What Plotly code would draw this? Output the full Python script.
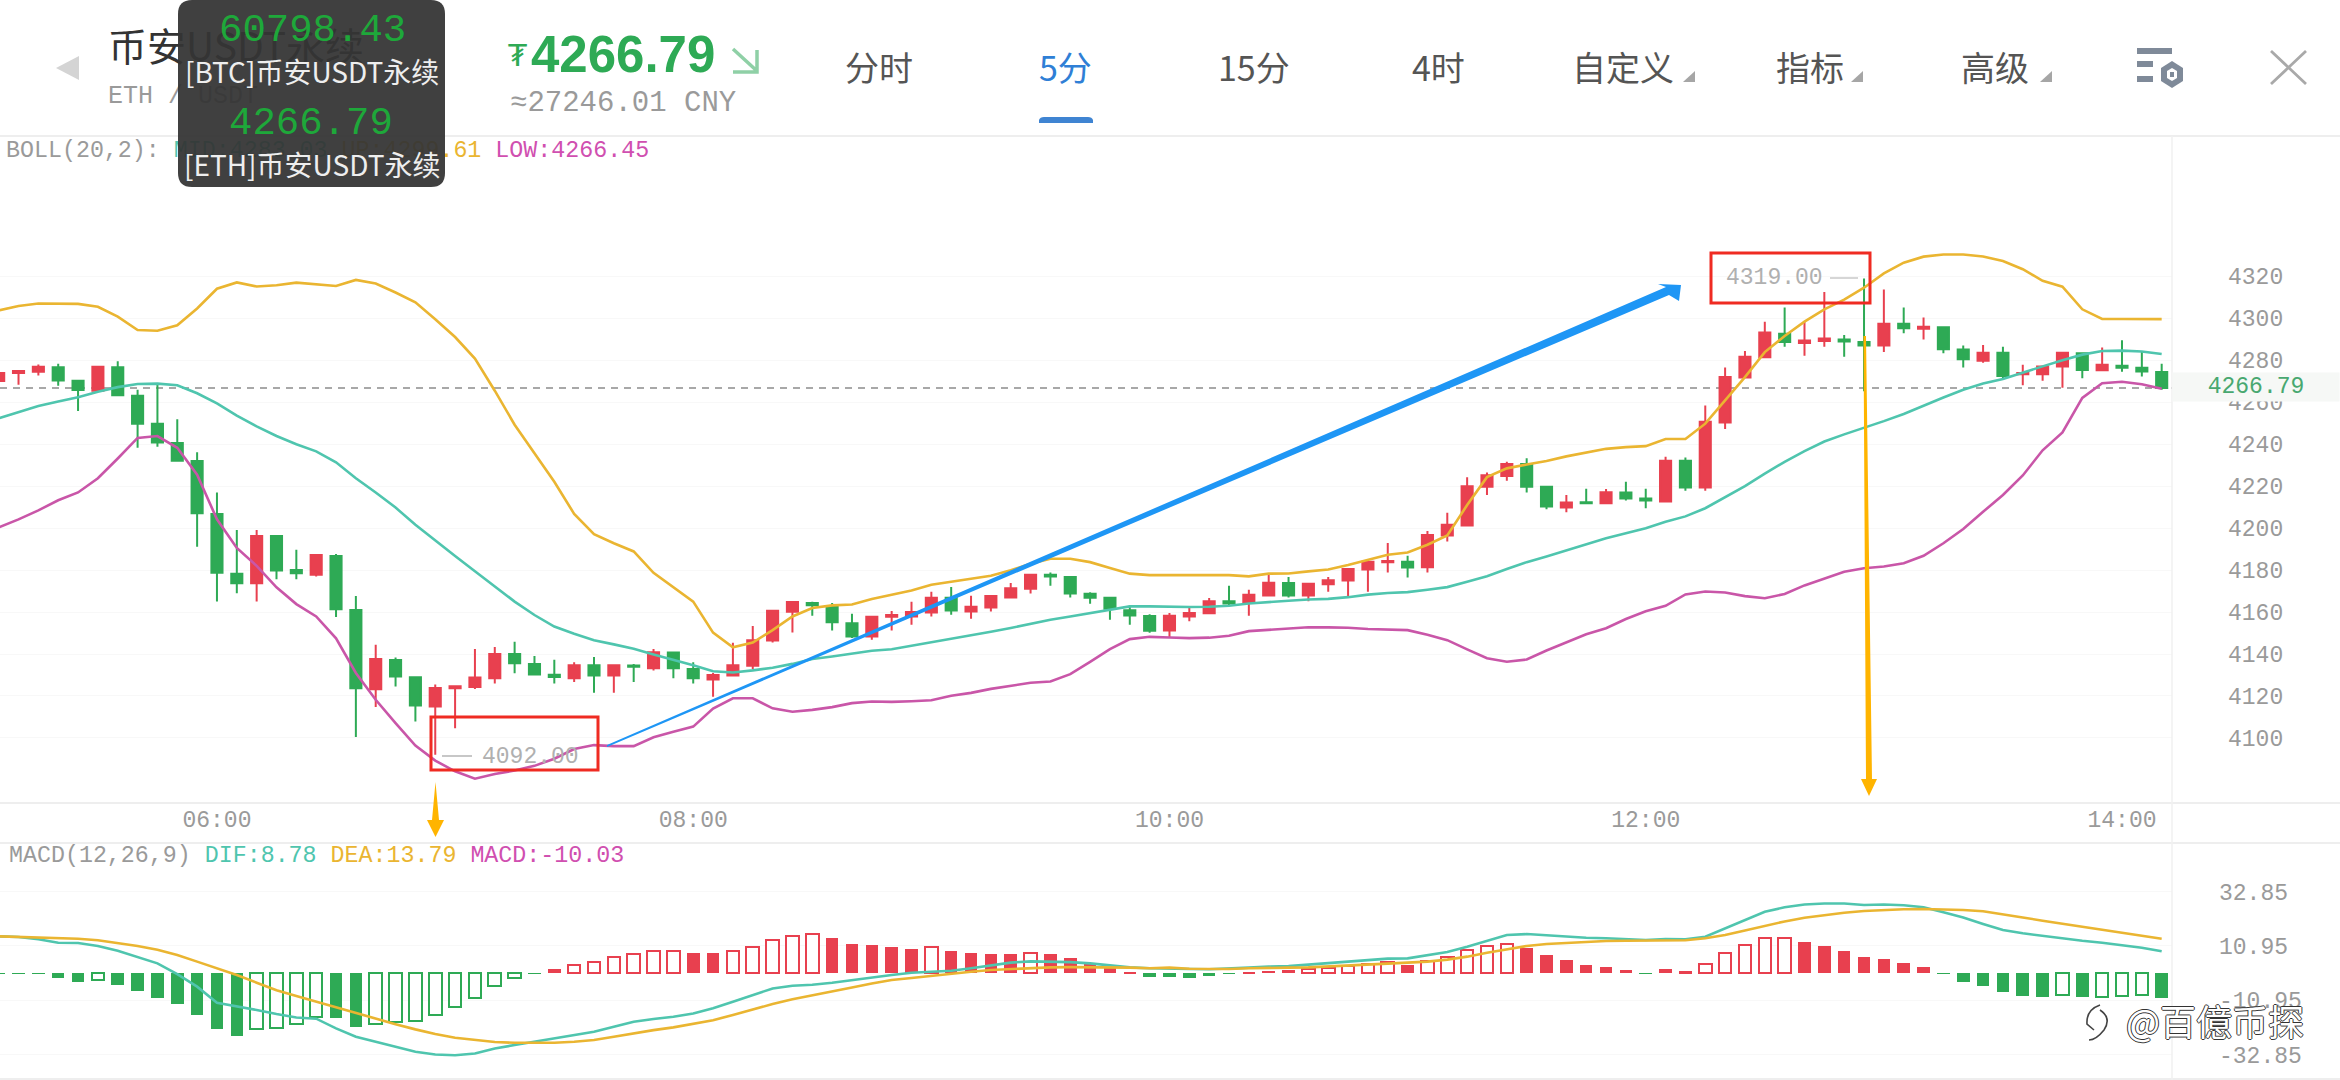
import pandas as pd
import plotly.graph_objects as go

times = pd.date_range("2021-05-11 05:05", periods=110, freq="5min")

open_ = [4270.1,4273.9,4274.5,4276.7,4270.3,4265.5,4276.7,4263.1,4249.7,4240.6,
 4232.0,4206.8,4178.3,4173.7,4196.2,4180.0,4177.8,4186.7,4161.0,4123.2,
 4137.1,4128.9,4115.0,4123.7,4124.3,4128.4,4140.0,4135.2,4130.1,4128.4,
 4134.7,4129.8,4134.5,4133.2,4140.7,4132.9,4127.9,4129.8,4134.4,4146.5,
 4160.2,4164.3,4162.7,4154.7,4148.4,4157.8,4157.9,4159.8,4166.8,4160.3,
 4162.2,4167.0,4171.1,4177.8,4176.7,4168.7,4166.8,4160.9,4158.1,4151.2,
 4157.9,4159.4,4165.2,4164.4,4167.9,4173.8,4167.9,4173.2,4175.1,4180.3,
 4183.8,4184.0,4181.4,4196.5,4201.3,4219.7,4224.8,4230.6,4219.7,4209.8,
 4212.4,4211.9,4217.0,4214.1,4212.7,4232.1,4219.4,4250.3,4271.8,4281.5,
 4292.6,4288.2,4289.2,4289.9,4288.7,4287.1,4297.4,4295.0,4295.8,4285.1,
 4279.8,4283.6,4273.3,4273.3,4277.1,4283.4,4275.2,4277.4,4276.4,4274.4]
high = [4274.0,4275.2,4278.0,4278.3,4270.6,4277.3,4279.6,4266.0,4268.9,4251.9,
 4236.2,4217.0,4199.1,4199.1,4196.5,4189.7,4187.7,4187.7,4167.6,4144.4,
 4138.3,4128.9,4125.5,4125.0,4142.4,4143.4,4145.8,4139.1,4137.3,4136.1,
 4138.6,4134.7,4135.2,4142.4,4140.7,4136.1,4131.0,4145.4,4153.4,4160.6,
 4164.8,4164.9,4164.3,4159.2,4157.8,4160.5,4164.9,4169.7,4171.9,4167.8,
 4167.6,4173.8,4177.8,4178.9,4176.7,4169.4,4167.1,4163.3,4159.0,4159.5,
 4161.9,4166.7,4172.6,4170.6,4177.8,4176.7,4173.8,4176.7,4180.5,4184.9,
 4192.9,4186.9,4198.6,4207.3,4224.3,4226.5,4231.6,4233.3,4219.7,4215.8,
 4218.8,4218.7,4222.1,4218.8,4234.0,4233.7,4258.4,4276.6,4284.4,4298.4,
 4305.2,4298.7,4312.5,4292.1,4319.0,4313.7,4305.2,4300.4,4295.8,4287.1,
 4287.3,4286.4,4277.9,4277.1,4283.6,4283.4,4286.1,4289.5,4283.9,4278.3]
low = [4270.1,4268.4,4272.8,4267.9,4255.8,4265.2,4263.0,4238.3,4238.8,4231.8,
 4191.1,4165.0,4169.0,4165.0,4175.6,4175.6,4177.0,4157.7,4100.5,4114.8,
 4124.5,4107.8,4092.0,4104.6,4123.3,4126.0,4130.8,4130.1,4125.9,4126.7,
 4121.6,4121.6,4126.7,4132.2,4128.4,4126.0,4119.6,4129.3,4132.7,4145.5,
 4150.3,4158.2,4151.2,4147.6,4146.8,4151.2,4153.9,4157.9,4158.7,4156.8,
 4160.3,4167.0,4168.9,4172.6,4167.0,4164.0,4156.3,4153.9,4150.1,4148.1,
 4155.6,4159.0,4163.0,4158.2,4167.8,4167.0,4165.2,4169.7,4167.5,4169.7,
 4178.9,4176.5,4178.9,4193.6,4201.0,4215.8,4222.6,4217.0,4209.0,4207.6,
 4211.9,4211.9,4213.2,4209.5,4212.4,4217.8,4217.8,4247.3,4271.5,4281.3,
 4286.4,4282.2,4286.4,4281.7,4265.2,4283.9,4292.9,4289.9,4283.4,4276.6,
 4278.8,4270.8,4268.1,4270.3,4266.9,4271.5,4275.2,4274.5,4272.3,4266.0]
close = [4274.0,4274.9,4276.9,4270.4,4265.8,4276.9,4263.3,4249.8,4240.8,4232.1,
 4207.1,4178.7,4173.7,4196.2,4179.8,4178.5,4187.2,4161.3,4123.7,4137.6,
 4129.3,4115.5,4123.8,4124.7,4128.8,4140.0,4135.6,4130.3,4129.1,4134.7,
 4129.8,4134.7,4133.9,4140.9,4133.2,4128.4,4130.0,4134.7,4146.6,4160.6,
 4164.8,4163.2,4155.1,4148.4,4157.8,4158.6,4160.0,4166.8,4160.8,4162.5,
 4167.6,4171.4,4177.8,4177.0,4168.9,4166.8,4161.6,4158.4,4151.1,4158.2,
 4159.5,4165.2,4164.1,4168.3,4174.0,4167.9,4173.5,4175.2,4180.5,4184.0,
 4184.3,4181.3,4196.7,4201.6,4220.0,4225.2,4230.6,4219.7,4210.3,4212.2,
 4211.9,4217.1,4214.1,4213.2,4232.1,4219.4,4250.7,4272.0,4281.7,4293.3,
 4288.7,4289.4,4290.4,4288.9,4287.1,4297.4,4295.3,4296.0,4285.3,4280.5,
 4283.6,4272.5,4274.0,4277.1,4283.6,4275.4,4277.9,4276.4,4274.7,4266.79]

boll_up = [4303.8,4305.9,4307.1,4307.1,4306.9,4305.5,4300.8,4294.4,4294.1,4296.7,
 4304.7,4314.1,4317.1,4315.2,4315.8,4317.0,4316.3,4315.4,4318.3,4316.6,
 4312.3,4307.6,4299.6,4291.1,4280.8,4265.5,4249.3,4235.7,4222.1,4206.8,
 4197.1,4192.8,4188.9,4178.7,4171.8,4165.0,4150.2,4143.2,4145.5,4151.4,
 4157.9,4161.9,4163.2,4163.6,4166.2,4168.3,4170.3,4173.0,4174.3,4175.9,
 4177.3,4179.9,4183.0,4185.4,4185.4,4183.8,4181.0,4178.3,4177.6,4177.5,
 4177.5,4177.6,4177.6,4177.0,4178.3,4178.4,4179.4,4180.3,4182.4,4184.8,
 4187.3,4188.4,4192.1,4196.5,4211.0,4224.3,4228.5,4230.3,4232.0,4234.2,
 4235.9,4237.8,4238.6,4239.1,4242.5,4242.5,4249.8,4260.9,4272.0,4283.9,
 4291.6,4298.4,4304.3,4308.9,4314.6,4321.4,4326.5,4329.4,4330.4,4330.4,
 4329.5,4327.3,4323.4,4317.9,4315.1,4304.3,4299.7,4299.7,4299.7,4299.61]
boll_mid = [4252.4,4255.3,4258.2,4260.4,4262.4,4265.0,4267.2,4268.7,4268.9,4268.1,
 4264.3,4259.5,4253.6,4248.5,4243.9,4240.0,4236.6,4231.4,4223.8,4217.0,
 4209.8,4201.6,4194.0,4186.7,4179.5,4172.4,4165.0,4158.6,4153.1,4149.7,
 4146.6,4144.6,4142.5,4139.8,4137.4,4134.7,4131.8,4131.2,4132.2,4133.5,
 4135.3,4137.6,4138.8,4140.1,4141.6,4142.3,4143.9,4145.7,4147.3,4148.7,
 4150.6,4152.4,4154.4,4156.3,4157.9,4159.5,4161.1,4162.7,4162.7,4162.5,
 4162.4,4162.5,4163.0,4164.1,4164.9,4165.4,4166.0,4166.3,4167.1,4168.3,
 4169.1,4169.5,4170.6,4171.9,4174.5,4177.1,4180.5,4183.8,4186.5,4189.4,
 4192.4,4195.2,4197.6,4200.0,4203.0,4205.6,4209.5,4214.6,4220.0,4226.0,
 4231.6,4236.7,4241.3,4244.7,4247.8,4251.0,4254.4,4258.4,4262.3,4266.0,
 4268.9,4271.1,4274.2,4277.1,4280.0,4282.7,4284.4,4284.6,4284.2,4283.03]
boll_low = [4200.3,4204.2,4208.5,4213.3,4217.0,4223.8,4233.2,4243.0,4243.9,4238.3,
 4225.5,4204.2,4190.6,4182.0,4171.8,4163.8,4157.9,4147.5,4131.0,4118.2,
 4107.1,4096.4,4089.2,4084.1,4080.6,4082.8,4084.5,4086.7,4090.1,4094.7,
 4096.6,4096.1,4096.1,4100.3,4102.9,4105.4,4114.0,4118.9,4118.9,4114.1,
 4112.5,4113.4,4114.7,4116.6,4117.4,4117.2,4117.5,4118.0,4120.1,4121.5,
 4123.4,4124.7,4126.3,4126.9,4130.4,4136.3,4142.3,4147.1,4148.2,4147.9,
 4147.6,4147.8,4148.7,4150.9,4151.6,4152.4,4152.8,4152.7,4152.5,4151.9,
 4151.6,4151.4,4149.2,4146.6,4142.2,4138.0,4136.3,4137.4,4141.7,4145.4,
 4149.4,4152.3,4156.7,4160.4,4163.0,4168.4,4169.8,4169.3,4167.6,4166.6,
 4168.6,4172.7,4175.8,4179.2,4180.9,4181.7,4183.3,4186.8,4192.8,4199.6,
 4207.8,4215.8,4225.1,4237.1,4245.6,4262.1,4269.1,4269.8,4268.6,4266.45]

macd_hist = [-0.3,-0.3,-0.3,-1.9,-3.5,-2.8,-4.7,-7.1,-9.9,-12.4,
 -16.8,-22.4,-25.3,-22.6,-22.2,-20.6,-17.6,-18.0,-21.6,-20.6,
 -19.9,-19.5,-16.9,-13.7,-10.1,-5.4,-2.0,-0.3,1.6,3.4,
 4.6,6.3,7.5,9.0,9.0,7.9,7.9,8.7,10.3,13.2,
 14.8,15.6,14.1,11.7,11.2,10.5,9.7,10.3,8.9,7.9,
 7.5,7.5,8.2,7.5,6.0,3.8,2.2,0.5,-1.6,-1.6,
 -2.0,-1.1,-0.2,0.4,0.9,1.2,1.6,2.2,3.0,3.8,
 4.3,3.2,5.0,6.3,9.1,10.8,11.8,9.9,7.3,5.2,
 3.2,2.4,1.2,-0.2,1.6,0.8,3.5,7.9,11.2,14.0,
 14.0,12.4,10.9,8.9,6.5,5.6,4.0,2.4,-0.3,-3.5,
 -5.2,-7.5,-9.1,-9.5,-8.9,-9.5,-9.5,-9.1,-9.0,-10.03]
hollow_bars = [5,13,14,15,16,19,20,21,22,23,24,25,26,29,30,31,32,33,34,37,38,39,40,41,47,
 52,66,67,68,69,70,72,73,74,75,76,86,87,88,89,90,104,106,107,108]
macd_dif = [14.8,14.5,13.6,12.2,12.1,10.9,9.0,6.6,3.9,-0.4,
 -5.5,-12.0,-13.3,-14.9,-16.5,-17.9,-18.4,-22.3,-25.7,-27.7,
 -29.7,-31.7,-32.8,-33.1,-32.4,-30.4,-29.0,-27.7,-26.3,-25.0,
 -23.7,-21.6,-19.6,-18.5,-17.6,-16.3,-14.2,-11.6,-8.9,-6.2,
 -5.1,-4.7,-3.9,-2.8,-1.7,-0.8,0.1,0.5,0.9,1.9,
 3.0,4.2,4.7,4.6,4.4,3.9,3.1,2.3,1.9,
 1.6,1.6,1.5,1.7,2.2,2.6,2.8,3.4,4.0,4.7,
 5.5,5.8,5.9,7.3,8.5,10.6,13.0,15.3,15.7,15.2,
 14.4,14.2,14.0,13.6,13.3,13.7,13.6,14.6,18.0,21.4,
 24.7,26.5,27.6,28.0,28.0,27.4,27.6,27.3,26.5,24.5,
 22.4,19.8,17.3,16.0,14.9,14.0,13.0,12.2,11.3,10.2,8.78]
macd_dea = [14.8,14.6,14.4,14.1,13.8,13.2,12.2,10.9,9.4,7.3,
 4.6,1.9,-0.8,-3.9,-6.9,-9.3,-11.6,-13.8,-16.0,-18.3,
 -20.6,-22.7,-24.6,-26.1,-27.1,-27.8,-28.1,-28.1,-28.1,-27.7,
 -27.0,-25.7,-24.3,-23.0,-21.9,-20.6,-19.0,-16.9,-14.6,-12.5,
 -10.6,-8.9,-7.3,-5.8,-4.2,-2.8,-2.0,-1.1,-0.3,0.5,
 1.2,1.6,2.0,2.3,2.4,2.4,2.3,2.2,1.9,
 2.2,1.7,1.6,1.6,1.9,1.9,2.2,2.3,2.6,3.1,
 3.5,3.8,4.2,4.6,5.4,6.6,8.2,9.7,10.9,11.7,
 12.2,12.6,12.9,13.0,13.0,13.0,13.2,14.0,15.3,17.1,
 19.0,20.8,22.3,23.4,24.3,25.0,25.4,25.7,25.8,25.7,
 25.4,24.9,23.8,22.4,21.1,19.9,18.7,17.5,16.3,15.1,13.79]

price_ticks = [4100,4120,4140,4160,4180,4200,4220,4240,4260,4280,4300,4320]
macd_ticks = [32.85,10.95,-10.95,-32.85]
time_ticks = ["2021-05-11 06:00","2021-05-11 08:00","2021-05-11 10:00","2021-05-11 12:00","2021-05-11 14:00"]
last_price = 4266.79

RED, GREEN = "#e8404f", "#2eaa55"
GOLD, TEAL, MAG = "#eab531", "#4fc5ae", "#c956a8"
GREY = "#9a9a9a"
MONO = "Liberation Mono"
CJK = "Noto Sans CJK SC"
W, H = 2340, 1080
XR = ["2021-05-11 05:05:20", "2021-05-11 14:12:36"]
PANEL = 2172 / W
LINE_W = 2.6

fig = go.Figure()
fig.add_trace(go.Candlestick(
    x=times, open=open_, high=high, low=low, close=close, xaxis="x", yaxis="y",
    increasing=dict(line=dict(color=RED, width=2), fillcolor=RED),
    decreasing=dict(line=dict(color=GREEN, width=2), fillcolor=GREEN),
    whiskerwidth=0, showlegend=False, hoverinfo="skip"))
for vals, col in ((boll_up, GOLD), (boll_mid, TEAL), (boll_low, MAG)):
    fig.add_trace(go.Scatter(x=times, y=vals, mode="lines", line=dict(color=col, width=LINE_W),
                             xaxis="x", yaxis="y", showlegend=False, hoverinfo="skip"))

bar_col = [RED if v >= 0 else GREEN for v in macd_hist]
fill = ["#ffffff" if i in hollow_bars else c for i, c in enumerate(bar_col)]
lw = [2 if i in hollow_bars else 0 for i in range(len(macd_hist))]
fig.add_trace(go.Bar(x=times, y=macd_hist, width=190000, xaxis="x2", yaxis="y2",
                     marker=dict(color=fill, line=dict(color=bar_col, width=lw)),
                     showlegend=False, hoverinfo="skip"))
fig.add_trace(go.Scatter(x=times, y=macd_dif, mode="lines", line=dict(color=TEAL, width=LINE_W),
                         xaxis="x2", yaxis="y2", showlegend=False, hoverinfo="skip"))
fig.add_trace(go.Scatter(x=times, y=macd_dea, mode="lines", line=dict(color=GOLD, width=LINE_W),
                         xaxis="x2", yaxis="y2", showlegend=False, hoverinfo="skip"))

# Texts that sit beneath the translucent dark popup
def under(x, y, text, size, color, family):
    fig.add_trace(go.Scatter(x=[x], y=[y], text=[text], mode="text", textposition="middle right",
                             textfont=dict(size=size, color=color, family=family),
                             xaxis="x3", yaxis="y3", showlegend=False, hoverinfo="skip"))

under(108, 51, "币安USDT永续", 39, "#333333", CJK)
under(108, 97, "ETH / USDT", 25, GREY, MONO)
under(6, 151, f'BOLL(20,2): <span style="color:{TEAL}">MID:4283.03</span> '
              f'<span style="color:{GOLD}">UP:4299.61</span> '
              f'<span style="color:#d04fb0">LOW:4266.45</span>', 23.3, GREY, MONO)

shapes = []
def shape_path(d, fill=None, line=None, width=0, layer="above"):
    shapes.append(dict(type="path", path=d, xref="x3", yref="y3", layer=layer,
                       fillcolor=fill or "rgba(0,0,0,0)",
                       line=dict(color=line or "rgba(0,0,0,0)", width=width)))
def hline(y, col="#e9e9e9", x0=0, x1=W):
    shapes.append(dict(type="line", xref="x3", yref="y3", x0=x0, x1=x1, y0=y, y1=y,
                       line=dict(color=col, width=1.5), layer="below"))

hline(136); hline(803); hline(843); hline(1079)
shapes.append(dict(type="line", xref="x3", yref="y3", x0=2172, x1=2172, y0=136, y1=1080,
                   line=dict(color="#f0f0f0", width=1.5), layer="below"))
shapes.append(dict(type="line", xref="paper", yref="y", x0=0, x1=PANEL, y0=last_price, y1=last_price,
                   line=dict(color="#a8a8a8", width=1.8, dash="7px,6px"), layer="below"))

# back triangle, blue tab underline, menu triangles
shape_path("M56,68 L79,56 L79,80 Z", fill="#d4d4d4")
shape_path("M1039,123 L1039,120 Q1040,117 1044,117 L1088,117 Q1092,117 1093,120 L1093,123 Z", fill="#3f84d2")
for tx in (1689, 1857, 2046):
    shape_path(f"M{tx-6},82 L{tx+6},82 L{tx+6},71 Z", fill="#a6a6a6")
# arrow next to price
shape_path("M733,49 L757,71 M757,50 L757,72 L733,72", line="#8fd0a6", width=3.5)
# settings icon
for d in ("M2137,48 L2172,48 L2172,54 L2137,54 Z", "M2137,61 L2153,61 L2153,67 L2137,67 Z",
          "M2137,76 L2153,76 L2153,82 L2137,82 Z"):
    shape_path(d, fill="#7f8a99")
shape_path("M2172,61 L2183,68 L2183,81 L2172,88 L2161,81 L2161,68 Z", fill="#7f8a99")
shape_path("M2172,68 L2177,71 L2177,78 L2172,81 L2167,78 L2167,71 Z", fill="#ffffff")
shape_path("M2170,72 L2174,72 L2174,77 L2170,77 Z", fill="#7f8a99")
shape_path("M2271,51 L2306,84 M2306,51 L2271,84", line="#a9a9a9", width=2.8)

# dark popup
shape_path("M178,14 Q178,0 192,0 L431,0 Q445,0 445,14 L445,173 Q445,187 431,187 "
           "L192,187 Q178,187 178,173 Z", fill="rgba(52,52,52,0.94)")
# red boxes
shape_path("M431,717 L598,717 L598,770 L431,770 Z", line="#ef2b22", width=3)
shape_path("M1711,253 L1870,253 L1870,303 L1711,303 Z", line="#ef2b22", width=3)
# high/low leader dashes
shape_path("M442,756 L472,756", line="#b5b5b5", width=1.5)
shape_path("M1830,278 L1858,278", line="#c8c8c8", width=1.5)
# blue trend arrow
shape_path("M607,745 L1666,287 L1658,284 L1681,285 L1679,301 L1669,295 L607,747 Z", fill="#1e96f5")
# orange arrows
shape_path("M435.5,782 L432,820 L427,820 L435.5,837 L444,820 L439,820 Z", fill="#ffb400")
shape_path("M1863.5,336 L1866,336 L1872,779 L1877,779 L1869,796 L1861,779 L1866,779 Z", fill="#ffb400")
# watermark swirl
shape_path("M2100,1005 Q2086,1010 2087,1024 L2094,1030 M2100,1010 Q2112,1018 2104,1030 "
           "Q2096,1040 2089,1040", line="#444444", width=1.6)

ann = []
def note(x, y, text, size, color, family=MONO, anchor="left", **kw):
    extra = kw.pop("font_extra", {})
    ann.append(dict(x=x, y=y, xref="x3", yref="y3", text=text, showarrow=False, xanchor=anchor,
                    yanchor="middle", font=dict(size=size, color=color, family=family, **extra), **kw))

POP_GREEN = "#1ea83a"
note(312, 31, "60798.43", 39, POP_GREEN, anchor="center")
note(312, 71, "[BTC]币安USDT永续", 28, "#eeeeee", CJK, anchor="center")
note(311, 124, "4266.79", 39, POP_GREEN, anchor="center")
note(312, 164, "[ETH]币安USDT永续", 28, "#eeeeee", CJK, anchor="center")

note(517, 55, "₮", 30, GREEN, "DejaVu Sans", anchor="center")
note(623, 54, "<b>4266.79</b>", 51, GREEN, "Liberation Sans", anchor="center")
note(508, 103, "≈27246.01 CNY", 29, GREY)

for label, cx, col in (("分时", 879, "#555555"), ("5分", 1065, "#2f7fd6"), ("15分", 1254, "#555555"),
                       ("4时", 1438, "#555555"), ("自定义", 1623, "#555555"), ("指标", 1810, "#555555"),
                       ("高级", 1995, "#555555")):
    note(cx, 66, label, 34, col, CJK, anchor="center")

note(480, 757, "4092.00", 23, "#b0b0b0")
note(1724, 278, "4319.00", 23, "#b0b0b0")
note(2172, 387, "4266.79", 23, "#48a870", anchor="left", width=166, height=28, align="center",
     bgcolor="#f6f8f6", borderpad=0)
note(7, 856, f'MACD(12,26,9) <span style="color:{TEAL}">DIF:8.78</span> '
             f'<span style="color:{GOLD}">DEA:13.79</span> '
             f'<span style="color:#d04fb0">MACD:-10.03</span>', 23.3, GREY)
wm_shadow = "1px 0 0 #333, -1px 0 0 #333, 0 1px 0 #333, 0 -1px 0 #333"
note(2124, 1020, "@百億币探", 36, "#ffffff", CJK, font_extra=dict(shadow=wm_shadow))

axis_font = dict(size=23, color=GREY, family=MONO)
GRID = "#f8f8f8"
fig.update_layout(
    width=W, height=H, autosize=False,
    margin=dict(l=0, r=0, t=0, b=0, pad=0),
    paper_bgcolor="#ffffff", plot_bgcolor="rgba(0,0,0,0)",
    showlegend=False, boxgap=0.2, bargap=0, hovermode=False,
    xaxis=dict(domain=[0, PANEL], anchor="y", type="date", range=XR, rangeslider=dict(visible=False),
               tickvals=time_ticks, tickformat="%H:%M", tickfont=axis_font, ticks="", showgrid=False,
               zeroline=False, showline=False),
    yaxis=dict(domain=[1 - 803 / H, 1 - 136 / H], anchor="x", side="right", range=[4069.0, 4386.9],
               tickvals=price_ticks, tickfont=axis_font, ticks="", gridcolor=GRID, gridwidth=1.2,
               zeroline=False, showline=False, ticklabelstandoff=55),
    xaxis2=dict(domain=[0, PANEL], anchor="y2", type="date", range=XR, showticklabels=False, ticks="",
                showgrid=False, zeroline=False, showline=False),
    yaxis2=dict(domain=[1 - 1079 / H, 1 - 843 / H], anchor="x2", side="right", range=[-42.7, 52.4],
                tickvals=macd_ticks, ticktext=[f"{v:.2f}" for v in macd_ticks], tickfont=axis_font, ticks="",
                gridcolor=GRID, gridwidth=1.2, zeroline=False, showline=False, ticklabelstandoff=46),
    xaxis3=dict(domain=[0, 1], anchor="y3", range=[0, W], visible=False, fixedrange=True),
    yaxis3=dict(domain=[0, 1], anchor="x3", range=[H, 0], visible=False, fixedrange=True),
    shapes=shapes, annotations=ann,
)

fig.write_html("out.html", config={"displayModeBar": False},
               post_script="document.body.style.margin='0';document.body.style.overflow='hidden';")
